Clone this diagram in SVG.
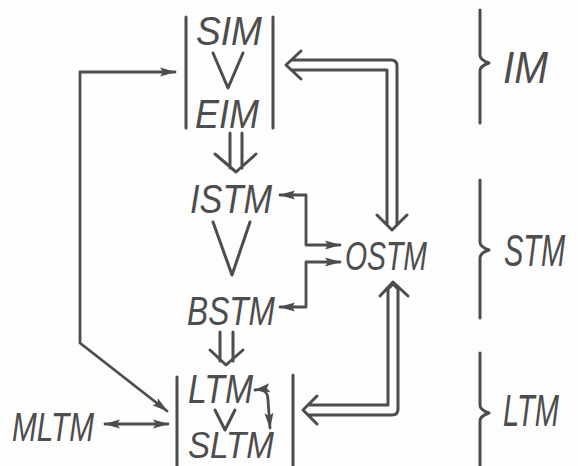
<svg xmlns="http://www.w3.org/2000/svg" width="578" height="466" viewBox="0 0 578 466">
<style>
.t{font-family:"Liberation Sans","DejaVu Sans",sans-serif;font-style:italic;font-size:40px;fill:#4d4d4d}
.r{font-size:44px}
.ln{fill:none;stroke:#4d4d4d;stroke-width:3;stroke-linecap:round;stroke-linejoin:round}
.th{fill:none;stroke:#4d4d4d;stroke-width:2.8;stroke-linecap:round;stroke-linejoin:round}
</style>
<defs>
<marker id="ah" viewBox="0 0 16 10" refX="15" refY="5" markerWidth="16" markerHeight="10" markerUnits="userSpaceOnUse" orient="auto-start-reverse">
<path d="M0,0.5 L16,5 L0,9.5 L3,5 Z" fill="#4d4d4d"/>
</marker>
</defs>
<rect width="578" height="466" fill="#fdfdfd"/>
<g id="IM-box">
<path class="ln" d="M186,17 V128 M273,17 V128"/>
<text class="t" x="196" y="45" textLength="66" lengthAdjust="spacingAndGlyphs">SIM</text>
<path class="ln" d="M213,53 L228,88 L243,53"/>
<text class="t" x="195" y="128" textLength="64" lengthAdjust="spacingAndGlyphs">EIM</text>
</g>
<g id="ISTM"><text class="t" x="190" y="213" textLength="82" lengthAdjust="spacingAndGlyphs">ISTM</text></g>
<g id="order-STM"><path class="ln" d="M213,222 L232,275 L250,222"/></g>
<g id="BSTM"><text class="t" x="187" y="325" textLength="88" lengthAdjust="spacingAndGlyphs">BSTM</text></g>
<g id="OSTM"><text class="t" x="345" y="270" textLength="82" lengthAdjust="spacingAndGlyphs">OSTM</text></g>
<g id="LTM-box">
<path class="ln" d="M177,377 V466 M293,375 V466"/>
<text class="t" x="188" y="403" textLength="65" lengthAdjust="spacingAndGlyphs">LTM</text>
<path class="ln" d="M215,410 L225,430 L235,410"/>
<text class="t" x="188" y="458" textLength="86" lengthAdjust="spacingAndGlyphs" style="font-size:37px">SLTM</text>
</g>
<g id="MLTM"><text class="t" x="12" y="441" textLength="82" lengthAdjust="spacingAndGlyphs">MLTM</text></g>
<g id="braces">
<path class="ln" d="M480,10 V55 Q480,60 489,63 Q480,66 480,71 V123"/>
<text class="t r" x="503" y="83" textLength="45" lengthAdjust="spacingAndGlyphs">IM</text>
<path class="ln" d="M480,180 V242 Q480,247 489,250 Q480,253 480,258 V318"/>
<text class="t r" transform="translate(504,266) scale(0.66,1)">STM</text>
<path class="ln" d="M480,353 V405 Q480,410 489,413 Q480,416 480,421 V466"/>
<text class="t r" transform="translate(503,426) scale(0.66,1)">LTM</text>
</g>
<g id="connectors">
<path class="th" d="M175,72 L80,72 L80,343 L167,411" marker-start="url(#ah)" marker-end="url(#ah)"/>
<path class="th" d="M280,195 L306,195 L306,245 L340,245" marker-start="url(#ah)" marker-end="url(#ah)"/>
<path class="th" d="M280,307 L306,307 L306,262 L340,262" marker-start="url(#ah)" marker-end="url(#ah)"/>
<path class="th" d="M255,390 Q268,388 268,400 L270,428" marker-start="url(#ah)" marker-end="url(#ah)"/>
<path class="th" d="M105,424 L168,424" marker-start="url(#ah)" marker-end="url(#ah)"/>
<path class="ln" d="M230,133 V168 M242,133 V168 M215,154 L236,172 L256,154"/>
<path class="ln" d="M220,332 V361 M233,332 V361 M210,350 L226,365 L243,350"/>
<path class="ln" d="M292,60 H391 Q397,60 397,66 V224 M292,70 H387 V224 M301,51 L286,65 L301,79 M377,215 L392,230 L407,215"/>
<path class="ln" d="M393,284 L388,289 V405 H309 M393,284 L398,289 V409 Q398,415 392,415 H309 M380,296 L393,282 L408,296 M317,396 L303,410 L317,424"/>
</g>
</svg>
